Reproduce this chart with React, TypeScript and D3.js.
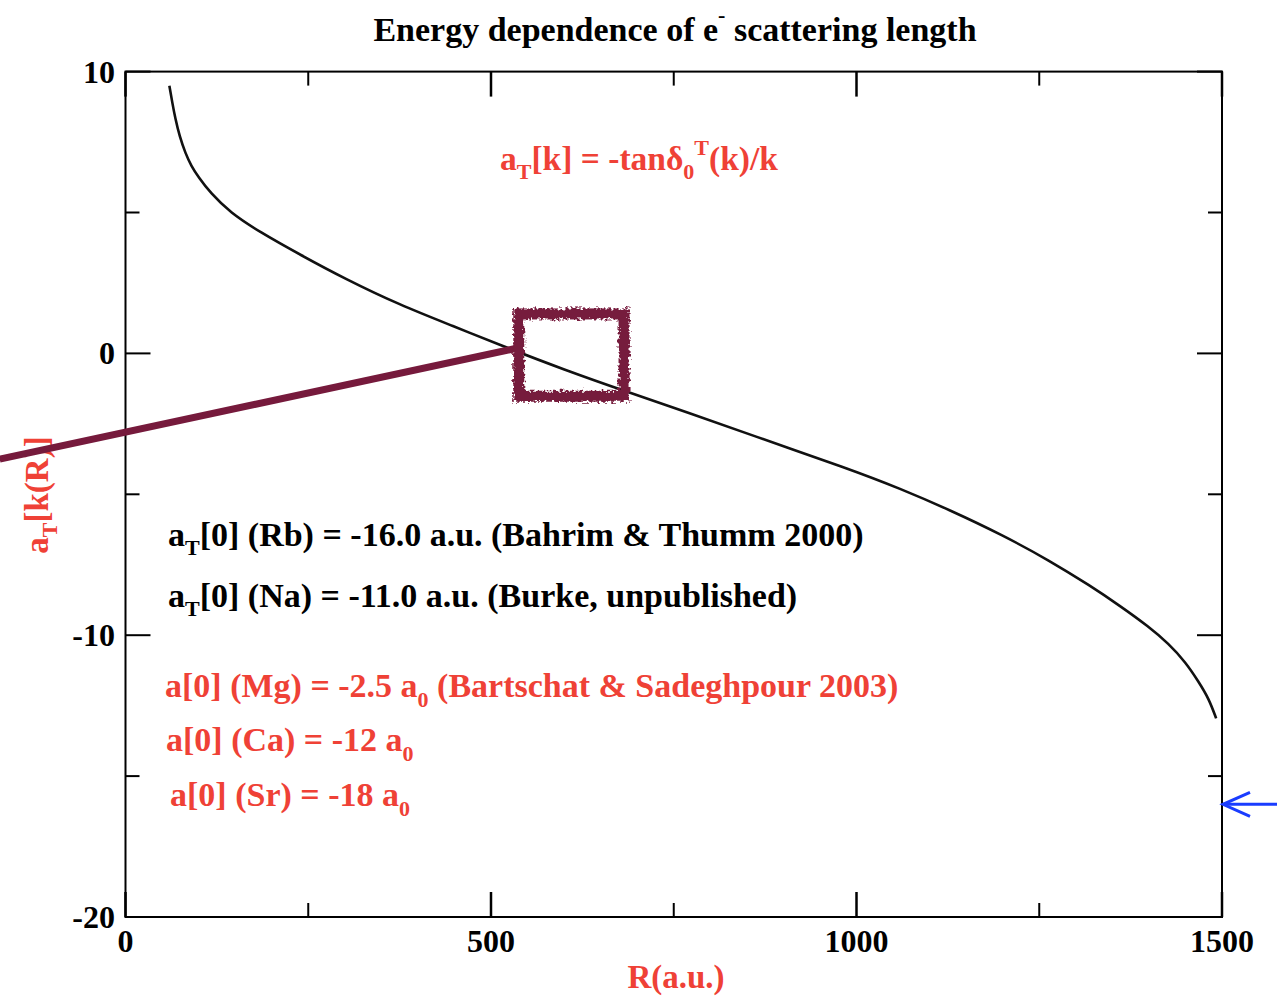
import React from "react";
import * as d3 from "d3";

// Scattering length a_T as a function of the cavity radius R
const radius = [60, 64, 68, 74, 82, 90, 100, 116, 143, 184, 239, 300, 375, 450, 512, 600, 690, 770, 854, 990, 1060, 1127, 1200, 1264, 1320, 1360, 1400, 1427, 1450, 1468, 1482, 1492];
const scatLength = [9.5, 8.9, 8.35, 7.7, 7.1, 6.65, 6.25, 5.7, 5.0, 4.3, 3.5, 2.65, 1.72, 0.95, 0.3, -0.58, -1.4, -2.1, -2.88, -4.1, -4.8, -5.55, -6.45, -7.35, -8.25, -8.95, -9.7, -10.3, -10.95, -11.65, -12.25, -12.95];

const xMajor = [0, 500, 1000, 1500];
const xMinor = [250, 750, 1250];
const yMajor = [-20, -10, 0, 10];
const yMinor = [-15, -5, 5];

// Highlight callout: box around the zero crossing and a pointer line to the left
const boxR = [538, 682];
const boxA = [1.4, -1.52];
const pointerR = [-172, 538];
const pointerA = [-3.75, 0.2];

// Rb value marker on the right edge
const markerA = -16.0;

const W = 1277;
const H = 996;
const RED = "#ef4136";
const MAROON = "#761a3c";
const FONT = "'Liberation Serif', 'Times New Roman', serif";

export default function App() {
  const x = d3.scaleLinear().domain([0, 1500]).range([125.5, 1222]);
  const y = d3.scaleLinear().domain([-20, 10]).range([917, 71.6]);

  const line = d3
    .line<number>()
    .x((_, i) => x(radius[i]))
    .y((d) => y(d))
    .curve(d3.curveBasis);

  const [x0, x1] = x.range();
  const [yb, yt] = y.range();
  const majorLen = 25;
  const minorLen = 14;

  const txt = {
    fontFamily: FONT,
    fontWeight: 700 as const,
  };

  const bx0 = x(boxR[0]);
  const bx1 = x(boxR[1]);
  const by0 = y(boxA[0]);
  const by1 = y(boxA[1]);

  const arrowTip = x(1500);
  const arrowY = y(markerA);

  return (
    <svg
      width={W}
      height={H}
      style={{ position: "absolute", left: 0, top: 0, background: "#fff" }}
    >
      <defs>
        <filter id="rough" x="-20%" y="-20%" width="140%" height="140%">
          <feTurbulence type="fractalNoise" baseFrequency="0.35" numOctaves="2" seed="3" result="noise" />
          <feDisplacementMap in="SourceGraphic" in2="noise" scale="8" xChannelSelector="R" yChannelSelector="G" />
        </filter>
      </defs>

      {/* title */}
      <text x={675} y={41} textAnchor="middle" fontSize={34} {...txt} fill="#000">
        Energy dependence of e
        <tspan fontSize={22} dy={-19}>-</tspan>
        <tspan dy={19}> scattering length</tspan>
      </text>

      {/* frame */}
      <rect x={x0} y={yt} width={x1 - x0} height={yb - yt} fill="none" stroke="#000" strokeWidth={2} />

      {/* ticks on all four sides, pointing inward */}
      {xMajor.map((v) => (
        <g key={"xM" + v}>
          <line x1={x(v)} x2={x(v)} y1={yb} y2={yb - majorLen} stroke="#000" strokeWidth={2.5} />
          <line x1={x(v)} x2={x(v)} y1={yt} y2={yt + majorLen} stroke="#000" strokeWidth={2.5} />
        </g>
      ))}
      {xMinor.map((v) => (
        <g key={"xm" + v}>
          <line x1={x(v)} x2={x(v)} y1={yb} y2={yb - minorLen} stroke="#000" strokeWidth={2} />
          <line x1={x(v)} x2={x(v)} y1={yt} y2={yt + minorLen} stroke="#000" strokeWidth={2} />
        </g>
      ))}
      {yMajor.map((v) => (
        <g key={"yM" + v}>
          <line x1={x0} x2={x0 + majorLen} y1={y(v)} y2={y(v)} stroke="#000" strokeWidth={2} />
          <line x1={x1} x2={x1 - majorLen} y1={y(v)} y2={y(v)} stroke="#000" strokeWidth={2} />
        </g>
      ))}
      {yMinor.map((v) => (
        <g key={"ym" + v}>
          <line x1={x0} x2={x0 + minorLen} y1={y(v)} y2={y(v)} stroke="#000" strokeWidth={2} />
          <line x1={x1} x2={x1 - minorLen} y1={y(v)} y2={y(v)} stroke="#000" strokeWidth={2} />
        </g>
      ))}

      {/* tick labels */}
      {xMajor.map((v) => (
        <text key={"xl" + v} x={x(v)} y={952} textAnchor="middle" fontSize={32} {...txt} fill="#000">
          {v}
        </text>
      ))}
      {yMajor.map((v) => (
        <text key={"yl" + v} x={115} y={y(v) + 11} textAnchor="end" fontSize={32} {...txt} fill="#000">
          {v}
        </text>
      ))}

      {/* axis titles */}
      <text x={676} y={988} textAnchor="middle" fontSize={33} {...txt} fill={RED}>
        R(a.u.)
      </text>
      <text
        transform={`translate(48, 495) rotate(-90)`}
        textAnchor="middle"
        fontSize={33}
        {...txt}
        fill={RED}
      >
        a<tspan fontSize={22} dy={9}>T</tspan>
        <tspan dy={-9}>[k(R)]</tspan>
      </text>

      {/* curve */}
      <path d={line(scatLength) || ""} fill="none" stroke="#111" strokeWidth={2.6} />

      {/* formula */}
      <text x={500} y={170} fontSize={33.5} {...txt} fill={RED}>
        a<tspan fontSize={22} dy={9}>T</tspan>
        <tspan dy={-9}>[k] = -tanδ</tspan>
        <tspan fontSize={22} dy={9}>0</tspan>
        <tspan fontSize={22} dy={-24}>T</tspan>
        <tspan dy={15}>(k)/k</tspan>
      </text>

      {/* literature values */}
      <text x={168} y={546} fontSize={34} {...txt} fill="#000">
        a<tspan fontSize={22} dy={9}>T</tspan>
        <tspan dy={-9}>[0] (Rb) = -16.0 a.u. (Bahrim &amp; Thumm 2000)</tspan>
      </text>
      <text x={168} y={607} fontSize={34} {...txt} fill="#000">
        a<tspan fontSize={22} dy={9}>T</tspan>
        <tspan dy={-9}>[0] (Na) = -11.0 a.u. (Burke, unpublished)</tspan>
      </text>
      <text x={165} y={697} fontSize={34} {...txt} fill={RED}>
        a[0] (Mg) = -2.5 a<tspan fontSize={22} dy={10}>0</tspan>
        <tspan dy={-10}> (Bartschat &amp; Sadeghpour 2003)</tspan>
      </text>
      <text x={166} y={751} fontSize={34} {...txt} fill={RED}>
        a[0] (Ca) = -12 a<tspan fontSize={22} dy={10}>0</tspan>
      </text>
      <text x={170} y={806} fontSize={34} {...txt} fill={RED}>
        a[0] (Sr) = -18 a<tspan fontSize={22} dy={10}>0</tspan>
      </text>

      {/* callout */}
      <line
        x1={x(pointerR[0])}
        y1={y(pointerA[0])}
        x2={x(pointerR[1])}
        y2={y(pointerA[1])}
        stroke={MAROON}
        strokeWidth={7}
      />
      <rect
        x={bx0}
        y={by0}
        width={bx1 - bx0}
        height={by1 - by0}
        fill="none"
        stroke={MAROON}
        strokeWidth={11}
        filter="url(#rough)"
      />

      {/* Rb marker arrow */}
      <g stroke="#1a3cff" strokeWidth={3} fill="none">
        <line x1={W} y1={arrowY} x2={arrowTip + 1} y2={arrowY} />
        <polyline
          points={`${arrowTip + 28},${arrowY - 12} ${arrowTip + 1},${arrowY} ${arrowTip + 28},${arrowY + 12}`}
        />
      </g>
    </svg>
  );
}
